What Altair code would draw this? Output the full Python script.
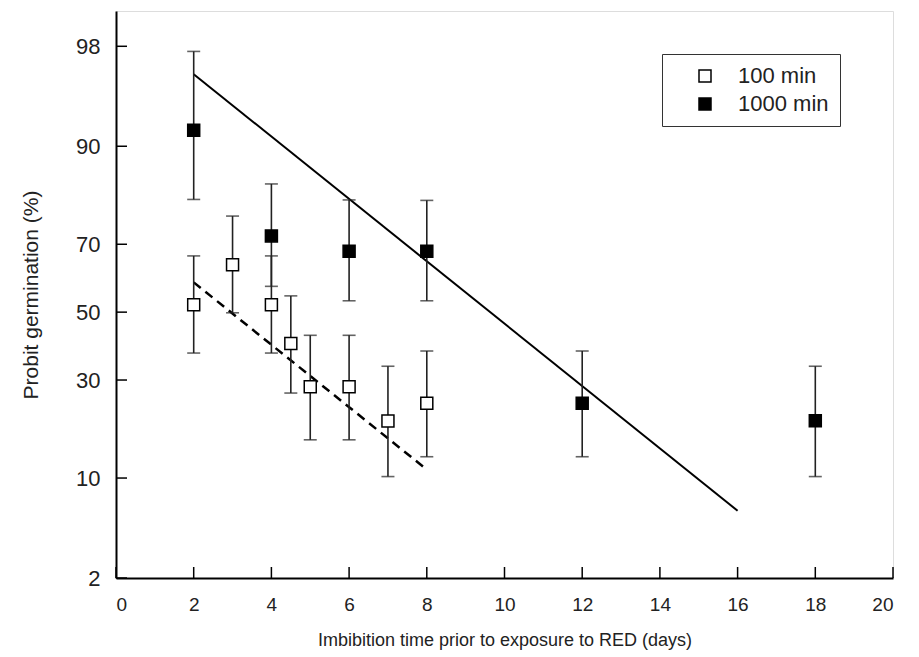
import altair as alt
import pandas as pd
from statistics import NormalDist

# ---- data (percent germination) ----
series_names = ["100 min", "1000 min"]

x100 = [2, 3, 4, 4.5, 5, 6, 7, 8]
y100 = [52.3, 64.3, 52.3, 40.4, 28.2, 28.2, 20.0, 24.1]
lo100 = [37.6, 49.8, 37.6, 26.6, 16.2, 16.2, 10.2, 13.2]
hi100 = [66.8, 77.1, 66.8, 55.0, 42.9, 42.9, 33.8, 38.2]

x1000 = [2, 4, 6, 8, 12, 18]
y1000 = [92.0, 72.2, 68.1, 68.1, 24.1, 20.1]
lo1000 = [80.8, 57.9, 53.5, 53.5, 13.2, 10.2]
hi1000 = [97.8, 83.9, 80.7, 80.6, 38.2, 33.8]

fit_x100 = [2, 8]
fit_y100 = [59.1, 11.2]
fit_x1000 = [2, 16]
fit_y1000 = [96.7, 6.25]

x_ticks = list(range(0, 21, 2))
y_tick_pct = [2, 10, 30, 50, 70, 90, 98]
y_domain_pct = [2, 99]

# ---- tables ----
pts = pd.DataFrame({
    "x": x100 + x1000,
    "pct": y100 + y1000,
    "lo": lo100 + lo1000,
    "hi": hi100 + hi1000,
    "series": [series_names[0]] * len(x100) + [series_names[1]] * len(x1000),
})
fit100 = pd.DataFrame({"x": fit_x100, "pct": fit_y100})
fit1000 = pd.DataFrame({"x": fit_x1000, "pct": fit_y1000})

nd = NormalDist()
y_tick_z = [nd.inv_cdf(p / 100) for p in y_tick_pct]
y_dom = [nd.inv_cdf(p / 100) for p in y_domain_pct]
xt = pd.DataFrame({"x": x_ticks})
yt = pd.DataFrame({"z": y_tick_z})

SANS = "Liberation Sans, Arial"

xscale = alt.Scale(domain=[0, 20], nice=False, zero=False)
yscale = alt.Scale(domain=y_dom, nice=False, zero=False)

xaxis = alt.Axis(
    values=x_ticks, format="d", title="Imbibition time prior to exposure to RED (days)",
    grid=False, ticks=False, domainColor="black", domainWidth=2,
    labelFont=SANS, labelFontSize=19, labelColor="#222", labelPadding=17,
    titleFont=SANS, titleFontSize=18, titleFontWeight="normal", titleColor="#222",
    titlePadding=17,
)
yaxis = alt.Axis(
    values=y_tick_z, labelExpr="format(cumulativeNormal(datum.value)*100, '.0f')",
    title="Probit germination (%)", grid=False, ticks=False,
    domainColor="black", domainWidth=2,
    labelFont=SANS, labelFontSize=22, labelColor="#222", labelPadding=16,
    titleFont=SANS, titleFontSize=21, titleFontWeight="normal", titleColor="#222",
    titlePadding=34,
)

zcalc = "quantileNormal(datum.pct / 100)"

line1000 = alt.Chart(fit1000).transform_calculate(z=zcalc).mark_line(
    color="black", strokeWidth=2
).encode(x=alt.X("x:Q", scale=xscale, axis=xaxis), y=alt.Y("z:Q", scale=yscale, axis=yaxis))

line100 = alt.Chart(fit100).transform_calculate(z=zcalc).mark_line(
    color="black", strokeWidth=2.5, strokeDash=[9, 6]
).encode(x="x:Q", y="z:Q")

# inward axis ticks
xticks_m = alt.Chart(xt).mark_rule(color="black", strokeWidth=1.5).encode(
    x="x:Q", y=alt.value(567), y2=alt.value(556)
)
yticks_m = alt.Chart(yt).mark_rule(color="black", strokeWidth=1.5).encode(
    y="z:Q", x=alt.value(0), x2=alt.value(11)
)

err = alt.Chart(pts).transform_calculate(
    zlo="quantileNormal(datum.lo / 100)", zhi="quantileNormal(datum.hi / 100)"
)
err_rule = err.mark_rule(color="#222", strokeWidth=1.6).encode(
    x="x:Q", y="zlo:Q", y2="zhi:Q"
)
cap_lo = err.mark_tick(orient="horizontal", size=13, thickness=1.6, color="#222").encode(
    x="x:Q", y="zlo:Q"
)
cap_hi = err.mark_tick(orient="horizontal", size=13, thickness=1.6, color="#222").encode(
    x="x:Q", y="zhi:Q"
)

points = alt.Chart(pts).transform_calculate(z=zcalc).mark_point(
    shape="square", size=144, filled=True, stroke="black", strokeWidth=1.5, opacity=1
).encode(
    x="x:Q",
    y="z:Q",
    fill=alt.Fill(
        "series:N",
        scale=alt.Scale(domain=series_names, range=["white", "black"]),
        legend=alt.Legend(
            title=None, orient="none", legendX=546, legendY=43,
            strokeColor="#333", padding=11, fillColor="white",
            symbolType="square", symbolSize=144, symbolStrokeColor="black",
            symbolStrokeWidth=1.5, symbolOffset=21, labelOffset=22,
            labelFont=SANS, labelFontSize=22, labelColor="#222", rowPadding=6,
            labelExpr="datum.label + '\u00a0\u00a0\u00a0'",
        ),
    ),
)

chart = alt.layer(line1000, line100, xticks_m, yticks_m, err_rule, cap_lo, cap_hi, points).properties(
    width=777, height=567,
    autosize=alt.AutoSizeParams(type="none"),
    padding={"left": 108, "top": 3, "right": 10, "bottom": 72},
).configure_view(stroke="black", strokeWidth=2).configure(background="white")

chart.save("out.html", embed_options={"renderer": "svg", "actions": False})
